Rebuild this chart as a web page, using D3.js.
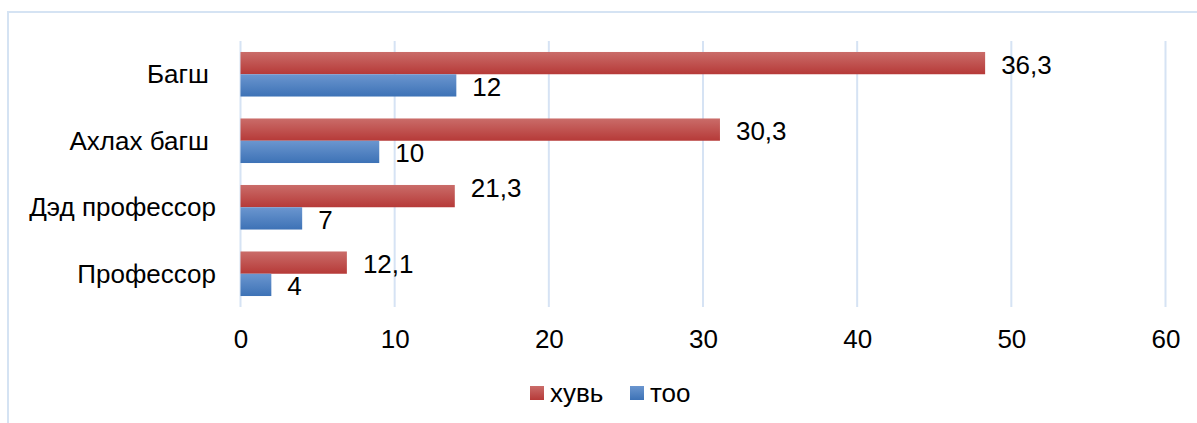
<!DOCTYPE html>
<html>
<head>
<meta charset="utf-8">
<script src="https://cdn.jsdelivr.net/npm/d3@7"></script>
<style>
  body { margin: 0; background: #fff; }
  text { font-family: "Liberation Sans", Arial, sans-serif; }
</style>
</head>
<body>
<div id="chart"></div>
<script>
const categories = ["Багш ", "Ахлах багш ", "Дэд профессор", "Профессор"];
const seriesNames = ["хувь", "тоо"];
const barPercent = [48.3, 31.1, 13.9, 6.9];   // red bar lengths
const barCount = [14, 9, 4, 2];               // blue bar lengths
const labelPercent = ["36,3", "30,3", "21,3", "12,1"];
const labelCount = ["12", "10", "7", "4"];
const xTicks = [0, 10, 20, 30, 40, 50, 60];

const width = 1197, height = 423;
const fontSize = "26px";
const svg = d3.select("#chart").append("svg")
    .attr("width", width)
    .attr("height", height);

const defs = svg.append("defs");
const grads = [
    { id: "gRed", top: "#ca6c69", bottom: "#b63a38" },
    { id: "gBlue", top: "#6b96cf", bottom: "#3d72b6" }
];
grads.forEach(g => {
    const lg = defs.append("linearGradient").attr("id", g.id)
        .attr("x1", 0).attr("y1", 0).attr("x2", 0).attr("y2", 1);
    lg.append("stop").attr("offset", "0%").attr("stop-color", g.top);
    lg.append("stop").attr("offset", "100%").attr("stop-color", g.bottom);
});
const fills = ["url(#gRed)", "url(#gBlue)"];

// chart frame
svg.append("rect")
    .attr("x", 8).attr("y", 12)
    .attr("width", 1300).attr("height", 500)
    .attr("fill", "none")
    .attr("stroke", "#d5e3f3")
    .attr("stroke-width", 2);

const x = d3.scaleLinear().domain([0, 60]).range([240.5, 1165.5]);
const y = d3.scaleBand().domain(categories).range([41, 307])
    .paddingInner(0.33).paddingOuter(0.165);
const ySub = d3.scaleBand().domain(seriesNames).range([0, y.bandwidth()]);

// gridlines
svg.append("g").selectAll("line")
    .data(xTicks)
    .enter().append("line")
    .attr("x1", d => x(d)).attr("x2", d => x(d))
    .attr("y1", 41).attr("y2", 307)
    .attr("stroke", "#d6e3f4")
    .attr("stroke-width", 2);

// x axis labels
const xAxis = svg.append("g")
    .attr("transform", "translate(0,327)")
    .call(d3.axisBottom(x).tickValues(xTicks).tickSize(0).tickFormat(d3.format("d")));
xAxis.select(".domain").remove();
xAxis.selectAll("text")
    .attr("font-family", "Liberation Sans, Arial, sans-serif")
    .attr("font-size", fontSize)
    .attr("fill", "#000");

// category labels
svg.append("g").selectAll("text")
    .data(categories)
    .enter().append("text")
    .attr("x", 216)
    .attr("y", d => y(d) + y.bandwidth() / 2)
    .attr("dy", "0.35em")
    .attr("text-anchor", "end")
    .style("white-space", "pre")
    .attr("font-size", fontSize)
    .attr("fill", "#000")
    .text(d => d);

const rows = categories.map((c, i) => ({
    cat: c,
    vals: [barPercent[i], barCount[i]],
    labels: [labelPercent[i], labelCount[i]]
}));

const groups = svg.append("g").selectAll("g")
    .data(rows)
    .enter().append("g")
    .attr("transform", d => `translate(0,${y(d.cat)})`);

groups.selectAll("rect")
    .data(d => d.vals.map((v, k) => ({ v, k })))
    .enter().append("rect")
    .attr("x", x(0))
    .attr("y", d => ySub(seriesNames[d.k]))
    .attr("width", d => x(d.v) - x(0))
    .attr("height", ySub.bandwidth())
    .attr("fill", d => fills[d.k]);

// data labels (the "Дэд профессор" percent label sits a bit higher in the original)
groups.selectAll("text")
    .data((d, i) => d.vals.map((v, k) => ({ v, k, label: d.labels[k], row: i })))
    .enter().append("text")
    .attr("x", d => x(d.v) + 16)
    .attr("y", d => ySub(seriesNames[d.k]) + ySub.bandwidth() / 2 + 1.5 - (d.row === 2 && d.k === 0 ? 10 : 0))
    .attr("dy", "0.35em")
    .attr("font-size", fontSize)
    .attr("fill", "#000")
    .text(d => d.label);

// legend
const legend = svg.append("g").attr("transform", "translate(530,386)");
const legendX = [0, 100];
seriesNames.forEach((s, k) => {
    const g = legend.append("g").attr("transform", `translate(${legendX[k]},0)`);
    g.append("rect").attr("width", 14).attr("height", 14).attr("fill", fills[k]);
    g.append("text")
        .attr("x", 20).attr("y", 7)
        .attr("dy", "0.35em")
        .attr("font-size", fontSize)
        .attr("fill", "#000")
        .text(s);
});
</script>
</body>
</html>
